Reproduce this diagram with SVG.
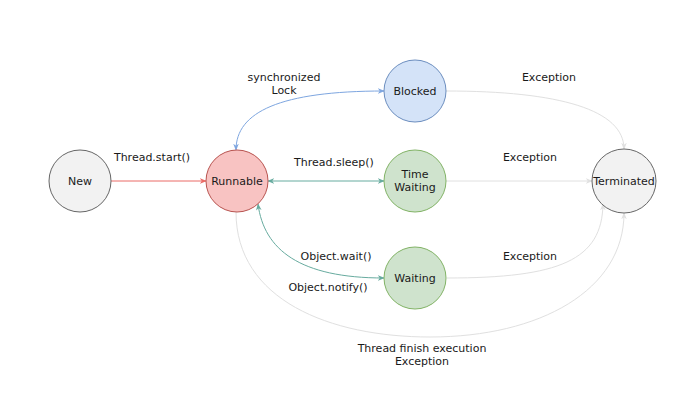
<svg xmlns="http://www.w3.org/2000/svg" width="692" height="403" viewBox="0 0 692 403">
<style>
text{font-family:"DejaVu Sans",Verdana,sans-serif;font-size:11px;fill:#1a1a1a;text-anchor:middle}
.e{fill:none;stroke-width:1}
</style>
<defs>
<marker id="aR" viewBox="0 0 10 10" refX="9" refY="5" markerWidth="7" markerHeight="7" orient="auto-start-reverse" markerUnits="userSpaceOnUse"><path d="M0,1 L10,5 L0,9 L3,5 Z" fill="#ea6b66"/></marker>
<marker id="aB" viewBox="0 0 10 10" refX="9" refY="5" markerWidth="7" markerHeight="7" orient="auto-start-reverse" markerUnits="userSpaceOnUse"><path d="M0,1 L10,5 L0,9 L3,5 Z" fill="#7ea6e0"/></marker>
<marker id="aT" viewBox="0 0 10 10" refX="9" refY="5" markerWidth="7" markerHeight="7" orient="auto-start-reverse" markerUnits="userSpaceOnUse"><path d="M0,1 L10,5 L0,9 L3,5 Z" fill="#67ab9f"/></marker>
<marker id="aG" viewBox="0 0 10 10" refX="9" refY="5" markerWidth="7" markerHeight="7" orient="auto-start-reverse" markerUnits="userSpaceOnUse"><path d="M0,1 L10,5 L0,9 L3,5 Z" fill="#e0e0e0"/></marker>
</defs>
<rect width="692" height="403" fill="#ffffff"/>
<g id="connectors">
<path class="e" d="M111,181 L206,181" stroke="#ea6b66" marker-end="url(#aR)"/>
<path class="e" d="M236,150 C236,112 280,91 384,91" stroke="#7ea6e0" marker-start="url(#aB)" marker-end="url(#aB)"/>
<path class="e" d="M268,181 L384,181" stroke="#67ab9f" marker-start="url(#aT)" marker-end="url(#aT)"/>
<path class="e" d="M258,204 C264,250 300,278 384,278" stroke="#67ab9f" marker-start="url(#aT)" marker-end="url(#aT)"/>
<path class="e" d="M446,91 C560,91 624,110 624,149" stroke="#e0e0e0" marker-end="url(#aG)"/>
<path class="e" d="M446,181 L592,181" stroke="#e0e0e0" marker-end="url(#aG)"/>
<path class="e" d="M447,278 C560,278 602,260 603,204" stroke="#e0e0e0" marker-end="url(#aG)"/>
<path class="e" d="M236,212 C236,300 330,337 430,337 C540,337 624,290 624,213" stroke="#e0e0e0" marker-end="url(#aG)"/>
<text x="152" y="161">Thread.start()</text>
<text x="284" y="81">synchronized</text>
<text x="284" y="94">Lock</text>
<text x="334" y="166">Thread.sleep()</text>
<text x="336" y="260">Object.wait()</text>
<text x="328" y="291">Object.notify()</text>
<text x="549" y="81">Exception</text>
<text x="530" y="161">Exception</text>
<text x="530" y="260">Exception</text>
<text x="422" y="352">Thread finish execution</text>
<text x="422" y="365">Exception</text>
</g>
<g id="new"><circle cx="80" cy="181" r="31" fill="#f2f2f2" stroke="#666666"/><text x="80" y="185">New</text></g>
<g id="runnable"><circle cx="237" cy="181" r="31" fill="#f8c3c2" stroke="#b85450"/><text x="237" y="185">Runnable</text></g>
<g id="blocked"><circle cx="415" cy="91" r="31" fill="#d4e3f8" stroke="#6c8ebf"/><text x="415" y="95">Blocked</text></g>
<g id="timewaiting"><circle cx="415" cy="181" r="31" fill="#cfe3cd" stroke="#82b366"/><text x="415" y="178">Time</text><text x="415" y="191">Waiting</text></g>
<g id="waiting"><circle cx="415" cy="278" r="31" fill="#cfe3cd" stroke="#82b366"/><text x="415" y="282">Waiting</text></g>
<g id="terminated"><circle cx="624" cy="181" r="32" fill="#f2f2f2" stroke="#666666"/><text x="624" y="185">Terminated</text></g>
</svg>
